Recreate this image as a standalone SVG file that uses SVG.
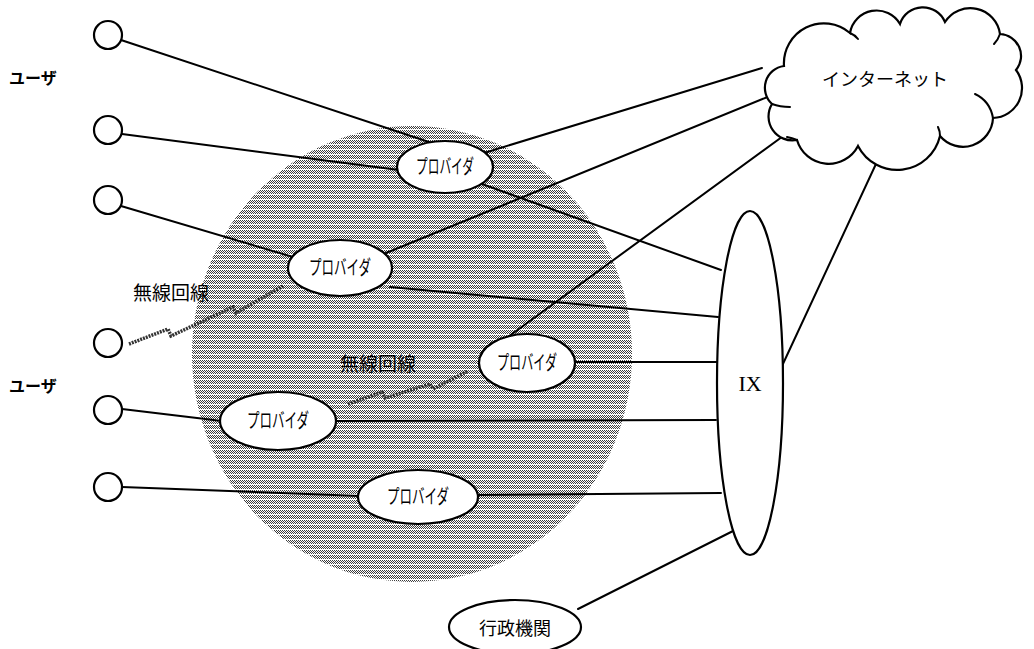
<svg xmlns="http://www.w3.org/2000/svg" width="1034" height="649" viewBox="0 0 1034 649">
  <defs>
    <!-- halftone dot rows used for the shaded service area -->
    <pattern id="halftone" patternUnits="userSpaceOnUse" width="4" height="5">
      <rect width="4" height="5" fill="#fff"/>
      <g fill="#3a3a3a">
        <rect x="0" y="0" width="1" height="1"/><rect x="2" y="0" width="1" height="1"/>
        <rect x="1" y="1" width="1" height="1"/><rect x="3" y="1" width="1" height="1"/>
        <rect x="0" y="2" width="1" height="1"/><rect x="2" y="2" width="1" height="1"/>
        <rect x="1" y="3" width="1" height="1"/><rect x="3" y="3" width="1" height="1"/>
      </g>
    </pattern>
    <style>
      .node { fill: #fff; stroke: #000; stroke-width: 2.2; }
      .link { fill: none; stroke: #000; stroke-width: 2; stroke-linecap: round; }
      .radio { fill: none; stroke: #333; stroke-width: 3.5; stroke-dasharray: 2 1; stroke-linejoin: miter; }
      .jp { font-family: "Noto Sans CJK JP", sans-serif; fill: #000; }
      .serif { font-family: "Liberation Serif", serif; fill: #000; }
    </style>
  </defs>

  <rect width="1034" height="649" fill="#fff"/>

  <!-- shaded area -->
  <ellipse cx="412" cy="354" rx="220" ry="228" fill="url(#halftone)"/>

  <!-- connectors -->
  <g id="connectors">
    <line class="link" x1="121" y1="40" x2="432" y2="143"/>
    <line class="link" x1="122" y1="134" x2="399" y2="170"/>
    <line class="link" x1="121" y1="206" x2="293" y2="257"/>
    <line class="link" x1="122" y1="409" x2="222" y2="421"/>
    <line class="link" x1="122" y1="487" x2="360" y2="496"/>
    <line class="link" x1="484" y1="153" x2="762" y2="68"/>
    <line class="link" x1="482" y1="184" x2="721" y2="270"/>
    <line class="link" x1="386" y1="253" x2="770" y2="96"/>
    <line class="link" x1="390" y1="287" x2="718" y2="317"/>
    <line class="link" x1="508" y1="337" x2="786" y2="134"/>
    <line class="link" x1="574" y1="362" x2="717" y2="362"/>
    <line class="link" x1="335" y1="421" x2="716" y2="420"/>
    <line class="link" x1="477" y1="495" x2="721" y2="493"/>
    <line class="link" x1="782" y1="366" x2="882" y2="151"/>
    <line class="link" x1="735" y1="530" x2="578" y2="609"/>
    <!-- wireless links -->
    <polyline class="radio" points="129,344 168,329 171,336 233,307 236,313 283,286"/>
    <polyline class="radio" points="348,404 382,392 385,398 430,384 433,389 468,371"/>
  </g>

  <!-- user terminals -->
  <g id="user1"><circle class="node" cx="108" cy="35" r="14"/></g>
  <g id="user2"><circle class="node" cx="108" cy="130" r="14"/></g>
  <g id="user3"><circle class="node" cx="108" cy="200" r="14"/></g>
  <g id="user4"><circle class="node" cx="108" cy="343" r="14"/></g>
  <g id="user5"><circle class="node" cx="108" cy="410" r="14"/></g>
  <g id="user6"><circle class="node" cx="108" cy="487" r="14"/></g>

  <g id="label-users">
    <text class="jp" x="9" y="84" font-size="16" font-weight="bold">ユーザ</text>
    <text class="jp" x="9" y="392" font-size="16" font-weight="bold">ユーザ</text>
  </g>

  <!-- providers -->
  <g id="provider1">
    <ellipse class="node" cx="445" cy="167" rx="48" ry="26"/>
    <text class="jp" font-size="20" x="445" y="174" text-anchor="middle" textLength="58" lengthAdjust="spacingAndGlyphs">プロバイダ</text>
  </g>
  <g id="provider2">
    <ellipse class="node" cx="340" cy="268" rx="52" ry="28"/>
    <text class="jp" font-size="20" x="340" y="275" text-anchor="middle" textLength="62" lengthAdjust="spacingAndGlyphs">プロバイダ</text>
  </g>
  <g id="provider3">
    <ellipse class="node" cx="527" cy="363" rx="48" ry="29"/>
    <text class="jp" font-size="20" x="527" y="370" text-anchor="middle" textLength="60" lengthAdjust="spacingAndGlyphs">プロバイダ</text>
  </g>
  <g id="provider4">
    <ellipse class="node" cx="278" cy="421" rx="58" ry="29"/>
    <text class="jp" font-size="20" x="278" y="428" text-anchor="middle" textLength="62" lengthAdjust="spacingAndGlyphs">プロバイダ</text>
  </g>
  <g id="provider5">
    <ellipse class="node" cx="418" cy="497" rx="60" ry="27"/>
    <text class="jp" font-size="20" x="418" y="504" text-anchor="middle" textLength="62" lengthAdjust="spacingAndGlyphs">プロバイダ</text>
  </g>

  <!-- wireless labels -->
  <g id="label-radio">
    <text class="jp" x="133" y="300" font-size="19">無線回線</text>
    <text class="jp" x="340" y="371" font-size="19">無線回線</text>
  </g>

  <!-- internet exchange -->
  <g id="ix">
    <ellipse class="node" cx="750" cy="383" rx="33" ry="172"/>
    <text class="serif" x="750" y="391" font-size="22" text-anchor="middle">IX</text>
  </g>

  <!-- internet cloud -->
  <g id="internet">
    <path class="node" d="M784,66 A40,40 0 0 1 850,33 A27,27 0 0 1 900,24 A24,24 0 0 1 945,22 A30,30 0 0 1 1000,34 A22,22 0 0 1 1016,70 A30,30 0 0 1 993,118 A30,30 0 0 1 940,136 A44,44 0 0 1 858,146 A33,33 0 0 1 797,140 A24,24 0 0 1 772,104 A22,22 0 0 1 784,66 Z"/>
    <g class="link">
      <path d="M772,104 Q780,107 790,107"/>
      <path d="M993,118 Q990,101 975,94"/>
      <path d="M850,33 Q855,35 858,39"/>
      <path d="M1000,34 Q998,40 994,44"/>
      <path d="M940,136 Q940,131 938,127"/>
      <path d="M797,140 Q792,138 787,137"/>
    </g>
    <text class="jp" x="885" y="86" font-size="18" text-anchor="middle">インターネット</text>
  </g>

  <!-- government agency -->
  <g id="government">
    <ellipse class="node" cx="515" cy="627" rx="66" ry="27"/>
    <text class="jp" x="515" y="635" font-size="18" text-anchor="middle">行政機関</text>
  </g>
</svg>
